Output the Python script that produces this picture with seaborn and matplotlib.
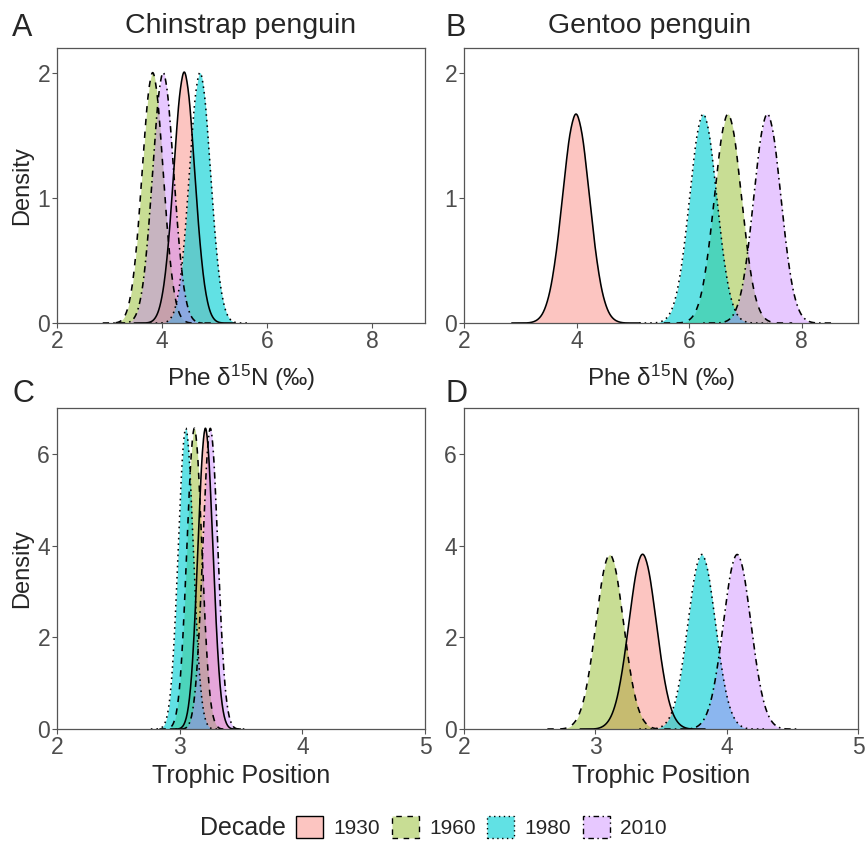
import numpy as np
import pandas as pd
import matplotlib.pyplot as plt
import seaborn as sns
from matplotlib.patches import Patch
from matplotlib.colors import to_rgba

sns.set_style('ticks')
plt.rcParams['font.family'] = ['Liberation Sans', 'DejaVu Sans']
plt.rcParams['mathtext.fontset'] = 'custom'
plt.rcParams['mathtext.rm'] = 'Liberation Sans'
plt.rcParams['mathtext.it'] = 'Liberation Sans:italic'

decades = ['1930', '1960', '1980', '2010']
fills = ['#F8766D', '#7CAE00', '#00CFD4', '#C77CFF']
alphas = [0.42, 0.42, 0.62, 0.42]
styles = ['-', (0, (4, 4)), (0, (1, 2.5)), (0, (1, 2.5, 4, 2.5))]

# density heights, one list per decade and panel
# A: chinstrap Phe d15N
chin_phe_x = {
    '1930': [3.82, 3.92, 4.02, 4.12, 4.22, 4.32, 4.42, 4.52, 4.62, 4.72, 4.82, 4.92, 5.02],
    '1960': [3.22, 3.32, 3.42, 3.52, 3.62, 3.72, 3.82, 3.92, 4.02, 4.12, 4.22, 4.32, 4.42],
    '1980': [4.12, 4.22, 4.32, 4.42, 4.52, 4.62, 4.72, 4.82, 4.92, 5.02, 5.12, 5.22, 5.32],
    '2010': [3.42, 3.52, 3.62, 3.72, 3.82, 3.92, 4.02, 4.12, 4.22, 4.32, 4.42, 4.52, 4.62],
}
chin_phe_y = {
    '1930': [0.01, 0.06, 0.22, 0.57, 1.14, 1.73, 1.99, 1.73, 1.14, 0.57, 0.22, 0.06, 0.01],
    '1960': [0.01, 0.06, 0.22, 0.57, 1.14, 1.72, 1.98, 1.72, 1.14, 0.57, 0.22, 0.06, 0.01],
    '1980': [0.01, 0.06, 0.22, 0.57, 1.14, 1.72, 1.98, 1.72, 1.14, 0.57, 0.22, 0.06, 0.01],
    '2010': [0.01, 0.06, 0.22, 0.58, 1.15, 1.74, 2.00, 1.74, 1.15, 0.58, 0.22, 0.06, 0.01],
}
# B: gentoo Phe d15N
gent_phe_x = {
    '1930': [3.27, 3.39, 3.51, 3.63, 3.75, 3.87, 3.99, 4.11, 4.23, 4.35, 4.47, 4.59, 4.71],
    '1960': [5.97, 6.09, 6.21, 6.33, 6.45, 6.57, 6.69, 6.81, 6.93, 7.05, 7.17, 7.29, 7.41],
    '1980': [5.53, 5.65, 5.77, 5.89, 6.01, 6.13, 6.25, 6.37, 6.49, 6.61, 6.73, 6.85, 6.97],
    '2010': [6.67, 6.79, 6.91, 7.03, 7.15, 7.27, 7.39, 7.51, 7.63, 7.75, 7.87, 7.99, 8.11],
}
gent_phe_y = {
    '1930': [0.01, 0.05, 0.18, 0.47, 0.94, 1.43, 1.64, 1.43, 0.94, 0.47, 0.18, 0.05, 0.01],
    '1960': [0.01, 0.05, 0.18, 0.48, 0.95, 1.44, 1.66, 1.44, 0.95, 0.48, 0.18, 0.05, 0.01],
    '1980': [0.01, 0.05, 0.18, 0.48, 0.95, 1.44, 1.66, 1.44, 0.95, 0.48, 0.18, 0.05, 0.01],
    '2010': [0.01, 0.05, 0.18, 0.48, 0.97, 1.46, 1.68, 1.46, 0.97, 0.48, 0.18, 0.05, 0.01],
}
# C: chinstrap trophic position
chin_tp_x = {
    '1930': [3.03, 3.06, 3.09, 3.12, 3.15, 3.18, 3.21, 3.24, 3.27, 3.30, 3.33, 3.36, 3.39],
    '1960': [2.94, 2.97, 3.00, 3.03, 3.06, 3.09, 3.12, 3.15, 3.18, 3.21, 3.24, 3.27, 3.30],
    '1980': [2.87, 2.90, 2.93, 2.96, 2.99, 3.02, 3.05, 3.08, 3.11, 3.14, 3.17, 3.20, 3.23],
    '2010': [3.07, 3.10, 3.13, 3.16, 3.19, 3.22, 3.25, 3.28, 3.31, 3.34, 3.37, 3.40, 3.43],
}
chin_tp_y = {
    '1930': [0.05, 0.24, 0.80, 2.02, 3.95, 5.90, 6.74, 5.90, 3.95, 2.02, 0.80, 0.24, 0.05],
    '1960': [0.05, 0.23, 0.77, 1.96, 3.83, 5.71, 6.53, 5.71, 3.83, 1.96, 0.77, 0.23, 0.05],
    '1980': [0.05, 0.23, 0.78, 1.97, 3.85, 5.75, 6.57, 5.75, 3.85, 1.97, 0.78, 0.23, 0.05],
    '2010': [0.05, 0.24, 0.79, 2.00, 3.90, 5.83, 6.66, 5.83, 3.90, 2.00, 0.79, 0.24, 0.05],
}
# D: gentoo trophic position
gent_tp_x = {
    '1930': [3.06, 3.11, 3.16, 3.21, 3.26, 3.31, 3.36, 3.41, 3.46, 3.51, 3.56, 3.61, 3.66],
    '1960': [2.81, 2.86, 2.91, 2.96, 3.01, 3.06, 3.11, 3.16, 3.21, 3.26, 3.31, 3.36, 3.41],
    '1980': [3.51, 3.56, 3.61, 3.66, 3.71, 3.76, 3.81, 3.86, 3.91, 3.96, 4.01, 4.06, 4.11],
    '2010': [3.78, 3.83, 3.88, 3.93, 3.98, 4.03, 4.08, 4.13, 4.18, 4.23, 4.28, 4.33, 4.38],
}
gent_tp_y = {
    '1930': [0.04, 0.17, 0.51, 1.23, 2.30, 3.35, 3.80, 3.35, 2.30, 1.23, 0.51, 0.17, 0.04],
    '1960': [0.04, 0.17, 0.52, 1.24, 2.32, 3.37, 3.82, 3.37, 2.32, 1.24, 0.52, 0.17, 0.04],
    '1980': [0.04, 0.17, 0.51, 1.23, 2.29, 3.34, 3.78, 3.34, 2.29, 1.23, 0.51, 0.17, 0.04],
    '2010': [0.04, 0.17, 0.51, 1.23, 2.29, 3.34, 3.78, 3.34, 2.29, 1.23, 0.51, 0.17, 0.04],
}

rows = []
for panel, xs, ys in [('A', chin_phe_x, chin_phe_y), ('B', gent_phe_x, gent_phe_y),
                      ('C', chin_tp_x, chin_tp_y), ('D', gent_tp_x, gent_tp_y)]:
    for dec in decades:
        for v, d in zip(xs[dec], ys[dec]):
            rows.append((panel, dec, v, d))
df = pd.DataFrame(rows, columns=['panel', 'Decade', 'value', 'density'])

W, H = 866, 842
fig = plt.figure(figsize=(W / 100, H / 100), dpi=100)
boxes = {
    'A': (57, 48, 425, 323), 'B': (464, 48, 858, 323),
    'C': (57, 408, 425, 729), 'D': (464, 408, 858, 729),
}
for panel, (l, t, r, b) in boxes.items():
    ax = fig.add_axes([l / W, 1 - b / H, (r - l) / W, (b - t) / H])
    for i, dec in enumerate(decades):
        sub = df[(df.panel == panel) & (df.Decade == dec)]
        sns.kdeplot(data=sub, x='value', weights='density', bw_method=0.3,
                    fill=True, color=fills[i], alpha=alphas[i], linewidth=0, ax=ax)
        sns.kdeplot(data=sub, x='value', weights='density', bw_method=0.3,
                    color='black', linestyle=styles[i], linewidth=1.15, ax=ax)
    if panel in 'AB':
        ax.set_xlim(2, 9)
        ax.set_ylim(0, 2.2)
        ax.set_xticks([2, 4, 6, 8])
        ax.set_yticks([0, 1, 2])
        ax.set_xlabel(r'Phe $\mathregular{\delta^{15}}$N (‰)', fontsize=17.5, labelpad=7)
    else:
        ax.set_xlim(2, 5)
        ax.set_ylim(0, 7)
        ax.set_xticks([2, 3, 4, 5])
        ax.set_yticks([0, 2, 4, 6])
        ax.set_xlabel('Trophic Position', fontsize=18, labelpad=4)
    if panel in 'AC':
        ax.set_ylabel('Density', fontsize=17, labelpad=3)
    else:
        ax.set_ylabel('')
    for s in ax.spines.values():
        s.set_color('#555555')
        s.set_linewidth(0.9)
    ax.tick_params(direction='out', length=3.5, width=0.8, color='#555555',
                   labelsize=16.5, labelcolor='#4D4D4D', pad=1.5)

fig.text(12 / W, 1 - 28 / H, 'A', fontsize=22, va='center')
fig.text(445 / W, 1 - 28 / H, 'B', fontsize=22, va='center')
fig.text(12 / W, 1 - 394 / H, 'C', fontsize=22, va='center')
fig.text(445 / W, 1 - 394 / H, 'D', fontsize=22, va='center')
fig.text(241 / W, 1 - 26 / H, 'Chinstrap penguin', fontsize=20.5, ha='center', va='center')
fig.text(650 / W, 1 - 26 / H, 'Gentoo penguin', fontsize=20.5, ha='center', va='center')

handles = [Patch(facecolor=to_rgba(fills[i], alphas[i]), edgecolor='black',
                 linestyle=styles[i], linewidth=1.0) for i in range(4)]
fig.text(200 / W, 1 - 828 / H, 'Decade', fontsize=18, va='center')
fig.legend(handles, decades, loc='center left', bbox_to_anchor=(292 / W, 1 - 827 / H),
           ncol=4, frameon=False, fontsize=15, handlelength=1.3, handleheight=1.3,
           handletextpad=0.5, columnspacing=0.55, borderpad=0.2, borderaxespad=0)

fig.savefig('out.png', dpi=100)
